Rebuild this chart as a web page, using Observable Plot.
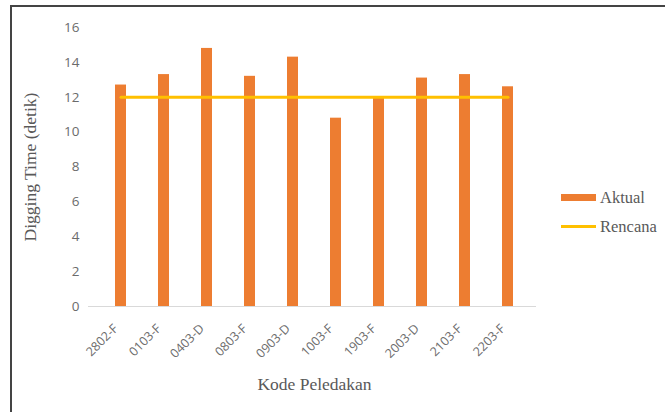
<!DOCTYPE html>
<html>
<head>
<meta charset="utf-8">
<script src="https://cdn.jsdelivr.net/npm/d3@7"></script>
<script src="https://cdn.jsdelivr.net/npm/@observablehq/plot@0.6"></script>
<style>
  html, body { margin: 0; padding: 0; background: #fff; }
  #wrap { position: relative; width: 665px; height: 412px; overflow: hidden; background: #fff; }
  #frame { position: absolute; left: 10px; top: 5px; width: 660px; height: 412px;
           border-left: 2px solid #444; border-top: 2px solid #444; box-sizing: border-box; }
  #chart { position: absolute; left: 0; top: 0; }
  .leg { position: absolute; font-family: "Liberation Serif", serif; font-size: 16.5px; color: #595959; }
  .sw { position: absolute; }
</style>
</head>
<body>
<div id="wrap">
  <div id="frame"></div>
  <div id="chart"></div>
  <div class="sw" style="left:561px; top:194px; width:35px; height:7px; background:#ED7D31;"></div>
  <div class="leg" style="left:600px; top:188px;">Aktual</div>
  <div class="sw" style="left:561px; top:225px; width:35px; height:3px; background:#FFC000;"></div>
  <div class="leg" style="left:600px; top:217px;">Rencana</div>
</div>
<script>
const kode = ["2802-F", "0103-F", "0403-D", "0803-F", "0903-D", "1003-F", "1903-F", "2003-D", "2103-F", "2203-F"];
const aktual = [12.7, 13.3, 14.8, 13.2, 14.3, 10.8, 12.0, 13.1, 13.3, 12.6];
const rencana = [12, 12, 12, 12, 12, 12, 12, 12, 12, 12];
const yTicks = [0, 2, 4, 6, 8, 10, 12, 14, 16];

const data = kode.map((k, i) => ({kode: k, aktual: aktual[i], rencana: rencana[i]}));

const chart = Plot.plot({
  width: 665,
  height: 412,
  marginLeft: 95,
  marginRight: 132,
  marginTop: 27,
  marginBottom: 106,
  style: {background: "transparent"},
  x: {domain: kode, paddingInner: 0.75, paddingOuter: 0.375, label: null},
  y: {domain: [0, 16], label: null},
  marks: [
    Plot.ruleY([0], {stroke: "#d9d9d9", strokeWidth: 1, insetLeft: -7, insetRight: -3}),
    Plot.barY(data, {x: "kode", y: "aktual", fill: "#ED7D31"}),
    Plot.lineY(data, {x: "kode", y: "rencana", stroke: "#FFC000", strokeWidth: 3}),
    Plot.axisY({ticks: yTicks, tickSize: 0, tickPadding: 16, label: null,
      fontSize: 13.5, fontFamily: "Open Sans, sans-serif", fill: "#6b6b6b"}),
    Plot.axisX({tickSize: 0, tickPadding: 17, tickRotate: -45, label: null, dx: -5, dy: 3,
      fontSize: 12.5, fontFamily: "Open Sans, sans-serif", fill: "#6b6b6b"}),
    Plot.text(["Digging Time (detik)"], {frameAnchor: "left", textAnchor: "middle", dx: -65, rotate: -90,
      fontSize: 17.5, fontFamily: "Liberation Serif, serif", fill: "#595959"}),
    Plot.text(["Kode Peledakan"], {frameAnchor: "bottom", dy: 83,
      fontSize: 17.5, fontFamily: "Liberation Serif, serif", fill: "#595959"})
  ]
});
document.getElementById("chart").appendChild(chart);
</script>
</body>
</html>
